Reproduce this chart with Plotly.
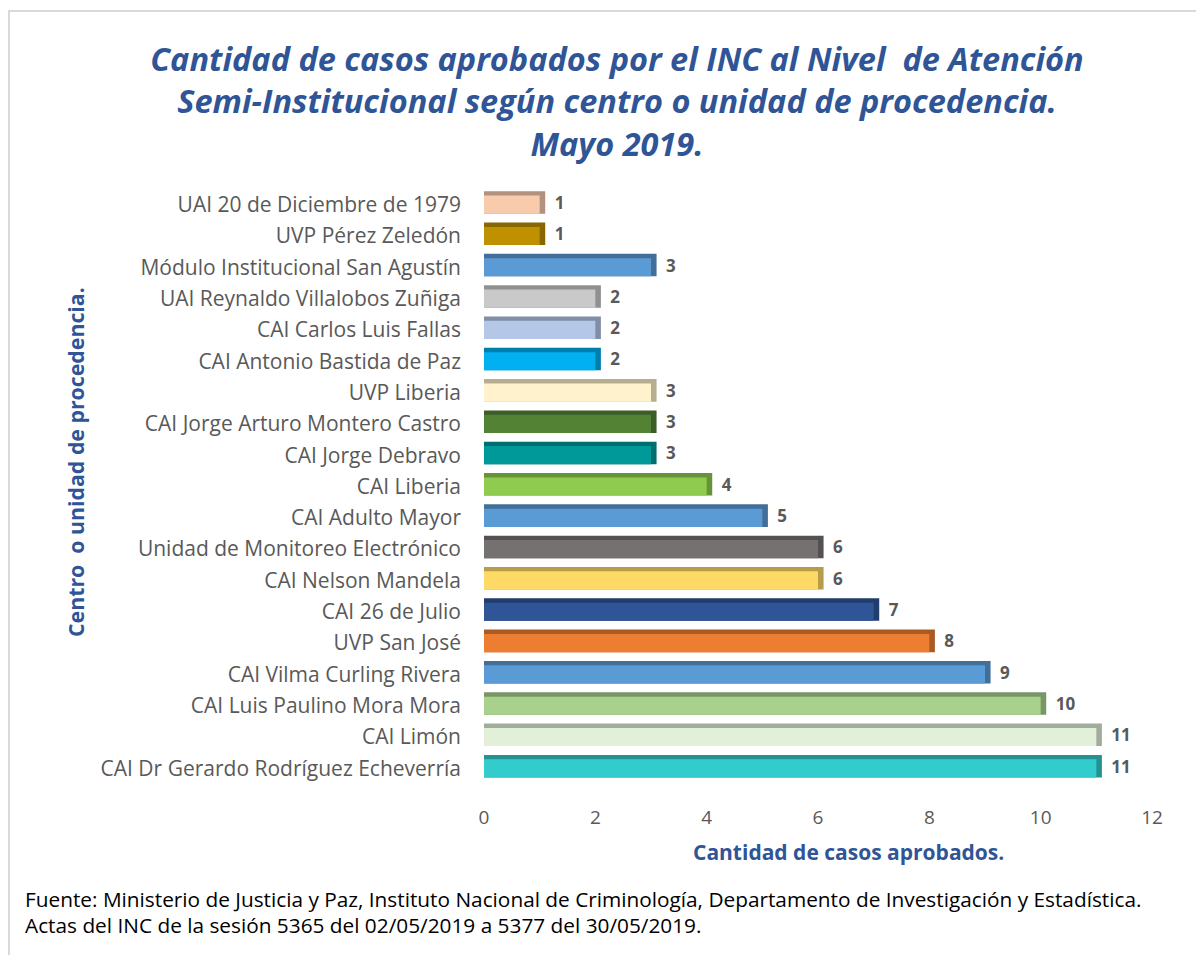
import plotly.graph_objects as go

# ---- data (top to bottom as shown in the chart) ----
categories = [
    "UAI 20 de Diciembre de 1979",
    "UVP Pérez Zeledón",
    "Módulo Institucional San Agustín",
    "UAI Reynaldo Villalobos Zuñiga",
    "CAI Carlos Luis Fallas",
    "CAI Antonio Bastida de Paz",
    "UVP Liberia",
    "CAI Jorge Arturo Montero Castro",
    "CAI Jorge Debravo",
    "CAI Liberia",
    "CAI Adulto Mayor",
    "Unidad de Monitoreo Electrónico",
    "CAI Nelson Mandela",
    "CAI 26 de Julio",
    "UVP San José",
    "CAI Vilma Curling Rivera",
    "CAI Luis Paulino Mora Mora",
    "CAI Limón",
    "CAI Dr Gerardo Rodríguez Echeverría",
]
values = [1, 1, 3, 2, 2, 2, 3, 3, 3, 4, 5, 6, 6, 7, 8, 9, 10, 11, 11]
colors = [
    "#F8CBAD", "#BF9000", "#5B9BD5", "#C9C9C9", "#B4C7E7", "#00B0F0",
    "#FFF2CC", "#548235", "#009999", "#8FCB4F", "#5B9BD5", "#767171",
    "#FFD966", "#2F5597", "#ED7D31", "#5B9BD5", "#A9D18E", "#E2F0D9",
    "#33CCCC",
]
x_ticks = [0, 2, 4, 6, 8, 10, 12]

title_text = ("Cantidad de casos aprobados por el INC al Nivel  de Atención<br>"
              "Semi-Institucional según centro o unidad de procedencia.<br>"
              "Mayo 2019.")
x_title = "Cantidad de casos aprobados."
y_title = "Centro  o unidad de procedencia."
source_lines = [
    "Fuente: Ministerio de Justicia y Paz, Instituto Nacional de Criminología, "
    "Departamento de Investigación y Estadística.",
    "Actas del INC de la sesión 5365 del 02/05/2019 a 5377 del 30/05/2019.",
]

# ---- style ----
W, H = 1204, 955
OFF = 8  # page margin of the html body
ML, MR, MT, MB = 476, 60, 181, 179
FONT = "Open Sans"
BLUE = "#2F5597"
GRAY = "#595959"


def darken(hexc, f=0.72):
    h = hexc.lstrip("#")
    r, g, b = (int(h[i:i + 2], 16) for i in (0, 2, 4))
    return "#%02X%02X%02X" % (int(r * f), int(g * f), int(b * f))


def px_x(p):
    return (p - OFF - ML) / (W - ML - MR)


def px_y(p):
    return (H - MB - (p - OFF)) / (H - MT - MB)


bar_w = 0.58
depth_y = 0.14
depth_x = 0.1

# plotly draws first category at bottom -> reverse
cats = categories[::-1]
vals = values[::-1]
cols = colors[::-1]

fig = go.Figure()
# back (depth) faces
fig.add_trace(go.Bar(
    y=cats, x=[v + depth_x for v in vals], orientation="h",
    width=bar_w + depth_y, offset=-bar_w / 2,
    marker=dict(color=[darken(c) for c in cols], line=dict(width=0)),
    hoverinfo="skip", showlegend=False,
))
# front faces
fig.add_trace(go.Bar(
    y=cats, x=vals, orientation="h",
    width=bar_w, offset=-bar_w / 2,
    marker=dict(color=cols, line=dict(width=0)),
    showlegend=False,
))
# data labels
fig.add_trace(go.Scatter(
    y=cats, x=[v + 0.27 for v in vals], mode="text",
    text=[str(v) for v in vals], textposition="middle right",
    textfont=dict(family=FONT, size=17, color=GRAY, weight="bold"),
    hoverinfo="skip", showlegend=False,
))

annotations = [
    dict(text=x_title, xref="paper", yref="paper", x=px_x(848), y=px_y(852),
         xanchor="center", yanchor="middle", showarrow=False,
         font=dict(family=FONT, size=21, color=BLUE, weight="bold")),
    dict(text=y_title, xref="paper", yref="paper", x=px_x(75), y=px_y(462),
         xanchor="center", yanchor="middle", showarrow=False, textangle=-90,
         font=dict(family=FONT, size=21.3, color=BLUE, weight="bold")),
]
for i, line in enumerate(source_lines):
    annotations.append(dict(
        text=line, xref="paper", yref="paper", x=px_x(23), y=px_y(899 + 26 * i),
        xanchor="left", yanchor="middle", align="left", showarrow=False,
        font=dict(family=FONT, size=20.8, color="#000000")))

fig.update_layout(
    width=W, height=H,
    margin=dict(l=ML, r=MR, t=MT, b=MB),
    paper_bgcolor="white", plot_bgcolor="white",
    barmode="overlay",
    font=dict(family=FONT, color=GRAY),
    title=dict(
        text=title_text, xref="container", yref="container",
        x=(617 - OFF) / W, xanchor="center", y=1 - (71 - OFF) / H, yanchor="middle",
        font=dict(family=FONT, size=32.5, color=BLUE, style="italic", weight="bold"),
    ),
    xaxis=dict(
        range=[0, 12], tickvals=x_ticks, showgrid=False, zeroline=False,
        showline=False, ticks="", ticklabelstandoff=20,
        tickfont=dict(family=FONT, size=19, color=GRAY),
    ),
    yaxis=dict(
        categoryorder="array", categoryarray=cats, range=[-0.5, len(cats) - 0.5],
        showgrid=False, zeroline=False, showline=False, ticks="",
        ticklabelstandoff=22,
        tickfont=dict(family=FONT, size=21, color=GRAY),
    ),
    shapes=[dict(
        type="rect", xref="paper", yref="paper",
        x0=px_x(9), x1=px_x(1225), y0=px_y(975), y1=px_y(11),
        line=dict(color="#D9D9D9", width=2), fillcolor="rgba(0,0,0,0)", layer="below",
    )],
    annotations=annotations,
)

fig.write_html("out.html")
